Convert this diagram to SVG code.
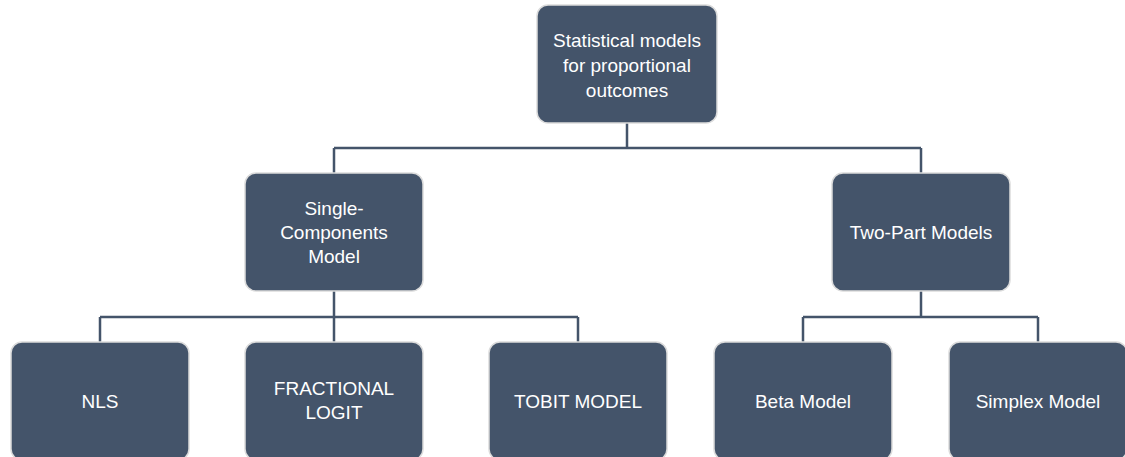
<svg xmlns="http://www.w3.org/2000/svg" width="1125" height="457" viewBox="0 0 1125 457">
<style>
.box{fill:#44546A;stroke:#DCDCDC;stroke-width:1.5}
.lbl{fill:#FFFFFF;font-family:"Liberation Sans",Arial,sans-serif;font-size:19px;text-anchor:middle}
.con{fill:none;stroke:#44546A;stroke-width:2.5}
</style>
<rect width="1125" height="457" fill="#FFFFFF"/>
<g id="connectors">
<path class="con" d="M627,123 V148 M334,148 H921 M334,148 V173 M921,148 V173"/>
<path class="con" d="M334,291 V317 M100,317 H578 M100,317 V342 M334,317 V342 M578,317 V342"/>
<path class="con" d="M921,291 V317 M803,317 H1038 M803,317 V342 M1038,317 V342"/>
</g>
<g id="root">
<rect class="box" x="537" y="5" width="180" height="118" rx="11"/>
<text class="lbl" x="627" y="47">Statistical models</text>
<text class="lbl" x="627" y="72">for proportional</text>
<text class="lbl" x="627" y="97">outcomes</text>
</g>
<g id="single">
<rect class="box" x="245" y="173" width="178" height="118" rx="11"/>
<text class="lbl" x="334" y="215">Single-</text>
<text class="lbl" x="334" y="239">Components</text>
<text class="lbl" x="334" y="263">Model</text>
</g>
<g id="twopart">
<rect class="box" x="832" y="173" width="178" height="118" rx="11"/>
<text class="lbl" x="921" y="239">Two-Part Models</text>
</g>
<g id="nls">
<rect class="box" x="11" y="342" width="178" height="118" rx="11"/>
<text class="lbl" x="100" y="408">NLS</text>
</g>
<g id="fractional">
<rect class="box" x="245" y="342" width="178" height="118" rx="11"/>
<text class="lbl" x="334" y="395">FRACTIONAL</text>
<text class="lbl" x="334" y="419">LOGIT</text>
</g>
<g id="tobit">
<rect class="box" x="489" y="342" width="178" height="118" rx="11"/>
<text class="lbl" x="578" y="408">TOBIT MODEL</text>
</g>
<g id="beta">
<rect class="box" x="714" y="342" width="178" height="118" rx="11"/>
<text class="lbl" x="803" y="408">Beta Model</text>
</g>
<g id="simplex">
<rect class="box" x="949" y="342" width="178" height="118" rx="11"/>
<text class="lbl" x="1038" y="408">Simplex Model</text>
</g>
</svg>
